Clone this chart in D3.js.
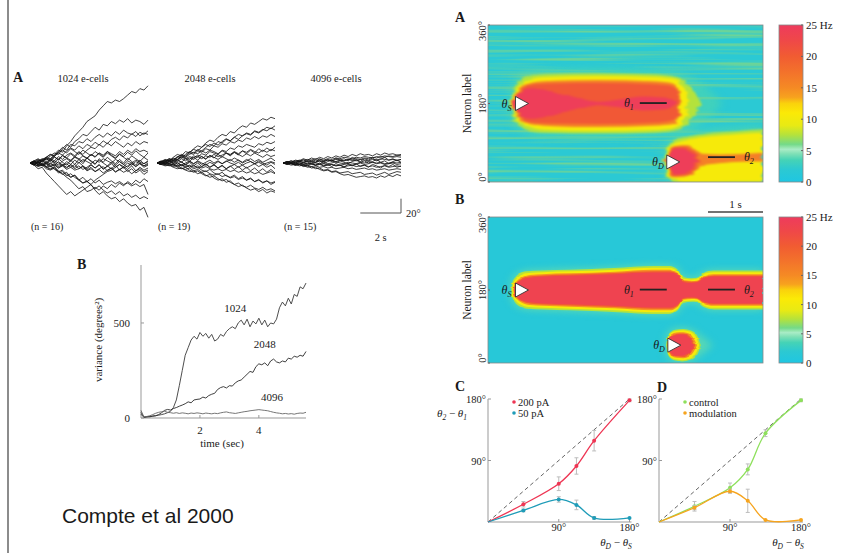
<!DOCTYPE html>
<html>
<head>
<meta charset="utf-8">
<script src="https://cdn.jsdelivr.net/npm/d3@7/dist/d3.min.js"></script>
<style>
html,body{margin:0;padding:0;background:#fff;}
svg{display:block;}
text{font-family:"Liberation Serif","DejaVu Serif",serif;fill:#1a1a1a;}
</style>
</head>
<body>
<svg id="fig" width="859" height="553" viewBox="0 0 859 553"></svg>
<script>
// ================= DATA =================
// Panel A (left): drift traces of bump position (degrees) vs time (s)
const traceTime=[0,0.2,0.4,0.6,0.8,1.0,1.2,1.4,1.6,1.8,2.0,2.2,2.4,2.6,2.8,3.0,3.2,3.4,3.6,3.8,4.0,4.2,4.4,4.6,4.8,5.0,5.2,5.4,5.6,5.8];
const traces1024=[
[0,2,-3,4,8,6,12,18,15,24,30,38,44,50,58,62,66,74,80,86,84,88,86,90,95,100,98,104,102,108],
[0,-2,3,6,4,10,14,12,20,26,22,30,34,40,38,44,50,46,54,52,58,55,60,57,62,56,60,58,54,60],
[0,3,6,2,8,12,10,16,22,18,26,24,30,28,34,30,36,40,36,42,38,44,40,46,42,40,44,38,42,40],
[0,-3,2,5,1,6,3,9,5,11,14,10,16,12,18,22,20,26,22,28,24,30,26,22,28,24,30,26,30,28],
[0,2,-1,3,-2,4,1,-3,3,6,2,8,5,10,7,12,9,14,11,16,13,10,16,12,18,14,20,16,18,15],
[0,-2,1,-3,2,-1,3,0,-4,2,-2,4,0,5,2,-1,4,1,6,3,0,5,2,-2,3,0,4,1,-1,2],
[0,1,-2,-4,-1,-5,-3,-7,-4,-9,-6,-10,-8,-5,-11,-8,-12,-9,-14,-10,-7,-12,-9,-13,-10,-15,-11,-8,-12,-10],
[0,-2,-5,-3,-8,-10,-7,-14,-12,-18,-15,-20,-24,-20,-26,-22,-28,-24,-30,-27,-25,-29,-26,-30,-28,-32,-29,-33,-30,-44],
[0,2,-3,-1,-6,-4,-9,-12,-10,-16,-20,-17,-24,-28,-26,-30,-38,-44,-40,-46,-50,-48,-54,-50,-56,-60,-58,-66,-62,-76],
[0,-3,-8,-6,-14,-20,-26,-32,-38,-44,-40,-46,-42,-38,-34,-30,-24,-20,-16,-12,-10,-6,-2,-5,0,-3,2,-1,-4,0],
[0,3,1,5,8,12,9,15,18,14,20,16,12,18,14,10,16,12,8,14,10,6,12,8,4,10,6,2,8,4],
[0,-1,-4,-2,-6,-9,-5,-12,-16,-13,-20,-17,-23,-28,-25,-31,-36,-32,-38,-42,-39,-44,-40,-46,-43,-48,-45,-50,-47,-50],
[0,1,4,2,7,5,10,14,11,17,21,18,24,20,26,23,29,25,31,27,33,36,32,38,35,41,37,43,40,45],
[0,-1,2,-2,1,-3,-1,-5,-2,-6,-3,-8,-4,-9,-6,-2,-7,-3,-8,-5,-1,-6,-2,-7,-4,0,-5,-1,-6,-3],
[0,2,0,3,6,3,8,5,10,7,4,9,6,2,7,3,-1,4,0,-4,1,-3,2,-2,-6,-1,-5,0,-4,-2],
[0,-2,-4,-1,-5,-8,-6,-11,-15,-20,-24,-30,-36,-33,-40,-38,-34,-38,-32,-36,-30,-34,-28,-32,-26,-30,-24,-28,-22,-26],
[0,3,-2,4,-1,5,0,6,1,-3,4,-2,5,-1,7,2,-2,6,1,8,3,-1,5,0,7,2,-3,4,-1,3],
[0,-3,2,-1,-5,0,-4,2,-3,-7,-2,-6,1,-4,-8,-3,-7,-2,-9,-4,-8,-3,-10,-5,-9,-4,-11,-6,-10,-7],
[0,2,5,1,6,2,9,4,11,7,13,8,15,10,6,12,8,14,9,16,11,7,13,9,15,11,17,12,8,14],
[0,-2,1,-4,0,-5,-2,-7,-3,-1,-6,-2,-8,-4,-10,-6,-12,-8,-5,-11,-7,-13,-9,-6,-12,-8,-14,-10,-16,-12]
];
const traces2048=[
[0,2,5,3,8,12,10,16,14,20,24,22,28,32,30,36,40,38,44,42,48,52,50,56,54,58,62,60,64,62],
[0,-2,2,6,4,9,7,12,16,14,19,17,22,26,24,30,28,33,31,36,40,38,42,40,45,43,47,45,49,46],
[0,3,1,5,3,8,11,9,14,12,17,15,20,18,24,22,27,25,30,28,32,30,35,33,37,34,38,36,40,37],
[0,1,4,2,6,4,9,7,5,10,8,13,11,16,14,12,18,16,21,19,24,22,26,24,22,27,25,29,27,30],
[0,-1,2,0,4,2,6,3,7,5,9,6,10,8,12,9,11,14,12,16,13,17,15,19,16,14,18,15,19,17],
[0,2,-1,3,0,4,1,-2,2,-1,3,0,-3,1,-2,2,-1,3,0,-2,1,-3,0,2,-1,1,-2,0,2,0],
[0,-2,0,-3,-1,-4,-2,-5,-3,-6,-4,-7,-5,-8,-10,-8,-11,-9,-12,-10,-13,-11,-14,-12,-15,-13,-16,-14,-12,-15],
[0,-1,-3,-2,-5,-3,-7,-9,-7,-11,-9,-13,-11,-15,-17,-15,-19,-17,-21,-19,-23,-21,-24,-22,-26,-24,-27,-25,-28,-26],
[0,-2,-4,-3,-6,-8,-7,-10,-12,-11,-15,-13,-17,-20,-18,-22,-25,-23,-27,-30,-28,-32,-34,-31,-35,-37,-34,-38,-36,-39],
[0,1,-2,-4,-2,-6,-8,-6,-10,-13,-11,-15,-18,-16,-21,-24,-22,-27,-25,-30,-33,-31,-35,-38,-36,-40,-37,-42,-39,-41],
[0,2,4,3,7,5,10,8,12,15,13,17,14,18,16,13,17,14,11,15,12,9,13,10,14,11,8,12,9,11],
[0,-2,1,-1,-3,0,-4,-2,-6,-3,-7,-5,-2,-6,-3,-7,-4,-8,-5,-2,-6,-3,-7,-4,-1,-5,-2,-6,-3,-8],
[0,1,3,6,4,8,12,10,15,19,17,22,26,23,28,25,30,34,31,36,33,38,41,39,44,42,46,50,48,52],
[0,-1,-2,0,-3,-5,-3,-6,-4,-8,-6,-10,-12,-9,-14,-16,-13,-18,-20,-17,-22,-19,-24,-21,-26,-23,-28,-25,-30,-27],
[0,2,1,4,2,5,8,6,9,7,11,9,6,10,8,5,9,6,3,7,4,1,5,2,-1,3,0,-3,1,-2],
[0,-2,2,-1,3,-2,2,-3,1,-4,0,-5,-1,-6,-2,-7,-3,-8,-4,-9,-5,-10,-6,-11,-7,-12,-8,-13,-9,-14],
[0,2,-1,3,0,5,1,6,2,8,4,9,5,11,7,12,8,14,10,15,11,17,13,18,14,20,16,21,17,22],
[0,1,-2,2,-1,1,-3,0,3,-1,2,-2,1,4,0,3,-1,2,5,1,4,0,3,6,2,5,1,4,7,3]
];
const traces4096=[
[0,2,1,4,3,6,4,7,5,8,6,9,7,10,8,11,9,12,10,13,11,12,10,13,11,14,12,13,11,12],
[0,1,3,2,4,3,5,4,6,5,4,6,5,7,6,8,7,6,8,7,9,8,7,9,8,10,9,8,9,8],
[0,-1,1,0,2,1,3,2,1,3,2,4,3,2,4,3,5,4,3,5,4,3,5,4,6,5,4,5,4,5],
[0,1,-1,0,-2,0,-1,1,0,-1,1,-1,0,2,0,-1,1,0,-1,1,0,2,1,0,1,-1,0,1,0,1],
[0,-1,0,-2,-1,-3,-2,-1,-3,-2,-4,-3,-2,-4,-3,-5,-4,-3,-5,-4,-3,-5,-4,-6,-5,-4,-6,-5,-4,-5],
[0,-2,-1,-3,-2,-4,-3,-5,-4,-6,-5,-7,-6,-8,-7,-6,-8,-7,-9,-8,-7,-9,-8,-10,-9,-8,-10,-9,-8,-9],
[0,-1,-3,-2,-4,-3,-6,-5,-8,-7,-10,-9,-12,-11,-14,-13,-12,-15,-14,-13,-16,-15,-14,-17,-15,-13,-16,-14,-12,-13],
[0,1,-1,-3,-2,-5,-4,-7,-6,-9,-11,-10,-13,-12,-15,-17,-16,-18,-20,-19,-18,-20,-19,-21,-18,-20,-17,-19,-16,-18],
[0,2,1,3,2,1,3,2,4,3,2,4,3,5,4,3,5,4,6,5,7,6,8,7,9,8,10,9,11,10],
[0,-1,1,-1,0,-2,0,-1,-3,-2,-1,-3,-2,-4,-3,-2,-1,-3,-2,0,-2,-1,1,-1,0,-2,-1,0,-2,-1],
[0,2,-1,1,3,0,2,-2,1,3,-1,2,4,0,3,1,-1,2,4,1,3,0,2,5,1,3,-1,2,4,1],
[0,-2,0,-3,1,-2,-4,-1,-3,0,-4,-2,-5,-1,-3,-6,-2,-4,-1,-5,-3,-6,-2,-4,-7,-3,-5,-2,-6,-4],
[0,1,3,0,2,5,2,4,1,6,3,5,2,7,4,6,3,8,5,2,6,4,7,3,5,8,4,6,3,5]
];
const traceTitles=['1024 e-cells','2048 e-cells','4096 e-cells'];
const traceCounts=['(n = 16)','(n = 19)','(n = 15)'];

// Panel B (left): variance (degrees^2) vs time (s)
const varTime=[0,0.1,0.2,0.3,0.4,0.5,0.6,0.7,0.8,0.9,1.0,1.1,1.2,1.3,1.4,1.5,1.6,1.7,1.8,1.9,2.0,2.1,2.2,2.3,2.4,2.5,2.6,2.7,2.8,2.9,3.0,3.1,3.2,3.3,3.4,3.5,3.6,3.7,3.8,3.9,4.0,4.1,4.2,4.3,4.4,4.5,4.6,4.7,4.8,4.9,5.0,5.1,5.2,5.3,5.4,5.5,5.6];
const var1024=[30,5,8,6,10,12,15,18,22,28,35,55,95,170,250,330,370,410,430,415,450,430,445,420,440,405,415,440,430,455,470,480,470,500,515,490,520,480,510,495,525,490,515,480,500,495,520,580,610,590,630,600,650,640,690,680,710];
const var2048=[20,3,5,8,10,12,18,28,40,45,42,50,55,62,68,75,85,80,95,98,100,110,105,118,125,130,150,160,165,158,170,168,185,195,200,215,230,245,240,270,285,280,290,275,300,310,295,290,300,295,315,310,325,320,330,325,350];
const var4096=[40,5,8,12,18,25,30,33,35,30,28,25,28,24,27,25,22,26,24,27,25,22,26,24,22,25,23,27,30,32,28,26,24,27,30,33,35,38,40,42,44,42,40,38,34,30,27,25,22,24,21,23,20,24,26,25,30];
const varLabels=['1024','2048','4096'];
const varTicksY=[0,500];
const varTicksX=[2,4];

// Colour map of the rasters (Hz -> colour)
const cmapValues=[0,2,3.5,4.5,5.2,6,7.5,9,11,12.5,13.5,15,17.5,20,22.5,25];
const cmapColors=['#1fc6e2','#2cc9d2','#45d3b6','#7fe0b6','#a9ecc6','#74da88','#b4e23c','#e8ea14','#fbea06','#fad20c','#f7a21e','#f58a24','#f3722b','#f15c32','#ef4848','#ee3b5d'];
const cbarTicks=[0,5,10,15,20,25];

// Raster A: bump contours, [time s, half-width deg] for each firing-rate level
const rasterA_bumpS={center:[[0,180],[5,180]],levels:[
 {rate:3.2,pts:[[0.38,0],[0.40,25],[0.45,45],[0.55,62],[0.7,72],[1.0,78],[2.0,80],[3.0,78],[3.4,74],[3.6,66],[3.8,52],[4.0,34],[4.15,16],[4.25,0]]},
 {rate:7.5,pts:[[0.42,0],[0.44,22],[0.48,38],[0.56,52],[0.7,62],[1.0,67],[2.0,69],[3.0,67],[3.4,62],[3.55,52],[3.7,34],[3.82,14],[3.88,0]]},
 {rate:10.5,pts:[[0.44,0],[0.46,20],[0.51,32],[0.6,45],[0.75,55],[1.0,60],[2.0,63],[3.0,61],[3.38,56],[3.5,44],[3.6,26],[3.66,0]]},
 {rate:16,pts:[[0.46,0],[0.48,18],[0.53,28],[0.62,40],[0.8,48],[1.2,52],[2.0,54],[3.0,51],[3.38,46],[3.46,32],[3.52,0]]},
 {rate:20.5,pts:[[0.47,0],[0.5,16],[0.55,25],[0.65,36],[0.85,44],[1.2,46],[2.0,47],[3.0,44],[3.38,39],[3.45,22],[3.49,0]]},
 {rate:24.5,pts:[[0.48,0],[0.5,14],[0.56,24],[0.65,32],[0.8,35],[1.0,32],[1.2,26],[1.5,16],[1.8,8],[2.0,4],[2.4,10],[2.8,16],[3.2,14],[3.4,6],[3.45,0]]}
]};
const rasterA_bumpD={center:[[3.25,46],[3.6,48],[4.0,52],[4.5,55],[5.0,57]],levels:[
 {rate:3.2,pts:[[3.18,0],[3.2,22],[3.25,40],[3.35,55],[3.6,64],[4.0,70],[4.5,72],[5.0,74]]},
 {rate:7.5,pts:[[3.2,0],[3.22,20],[3.27,36],[3.38,48],[3.6,56],[4.0,60],[4.5,62],[5.0,64]]},
 {rate:10.5,pts:[[3.22,0],[3.24,18],[3.29,32],[3.4,42],[3.6,48],[4.0,52],[4.5,54],[5.0,56]]},
 {rate:16,pts:[[3.24,0],[3.26,16],[3.31,28],[3.42,36],[3.6,36],[3.75,28],[3.9,14],[4.2,10],[4.6,9],[5.0,10]]},
 {rate:20.5,pts:[[3.25,0],[3.27,15],[3.32,26],[3.42,33],[3.58,33],[3.72,24],[3.8,12],[3.84,0]]},
 {rate:24.5,pts:[[3.26,0],[3.28,14],[3.33,24],[3.43,30],[3.56,29],[3.68,20],[3.76,8],[3.79,0]]}
]};
// Raster B
const rasterB_bumpS={center:[[0,180],[5,180]],levels:[
 {rate:3.8,pts:[[0.40,0],[0.42,20],[0.47,33],[0.55,43],[0.7,50],[1.0,52],[1.5,54],[2.3,58],[3.0,63],[3.3,63],[3.45,54],[3.55,36],[3.7,33],[3.8,34],[3.92,46],[4.1,51],[5.0,51]]},
 {rate:7.5,pts:[[0.42,0],[0.44,18],[0.49,30],[0.57,40],[0.72,46],[1.0,48],[1.5,50],[2.3,54],[3.0,59],[3.3,59],[3.45,50],[3.55,32],[3.7,29],[3.8,30],[3.92,42],[4.1,48],[5.0,48]]},
 {rate:10.5,pts:[[0.44,0],[0.46,16],[0.51,27],[0.59,36],[0.74,42],[1.0,44],[1.5,46],[2.3,50],[3.0,55],[3.3,55],[3.45,46],[3.55,28],[3.7,26],[3.8,27],[3.92,38],[4.1,44],[5.0,44]]},
 {rate:14.5,pts:[[0.46,0],[0.48,14],[0.53,23],[0.61,31],[0.76,37],[1.0,39],[1.5,41],[2.3,45],[3.0,50],[3.3,50],[3.45,41],[3.55,24],[3.7,22],[3.8,23],[3.92,34],[4.1,39],[5.0,39]]},
 {rate:20,pts:[[0.47,0],[0.49,13],[0.54,21],[0.62,28],[0.78,34],[1.0,36],[1.5,38],[2.3,42],[3.0,46],[3.3,46],[3.45,38],[3.55,22],[3.7,20],[3.8,21],[3.92,31],[4.1,36],[5.0,36]]},
 {rate:23.5,pts:[[0.48,0],[0.5,12],[0.55,19],[0.63,26],[0.8,31],[1.0,33],[1.5,35],[2.3,39],[3.0,43],[3.3,43],[3.45,35],[3.55,20],[3.7,17],[3.8,19],[3.92,28],[4.1,33],[5.0,33]]}
]};
const rasterB_bumpD={center:[[3.2,44],[4.1,44]],levels:[
 {rate:3.8,pts:[[3.22,0],[3.24,20],[3.3,34],[3.4,42],[3.55,44],[3.7,40],[3.82,30],[3.92,18],[4.02,8],[4.05,0]]},
 {rate:7.5,pts:[[3.24,0],[3.26,18],[3.31,31],[3.41,38],[3.55,40],[3.69,36],[3.8,24],[3.87,0]]},
 {rate:10.5,pts:[[3.25,0],[3.27,17],[3.32,29],[3.42,35],[3.55,37],[3.68,33],[3.78,20],[3.84,0]]},
 {rate:14.5,pts:[[3.26,0],[3.28,15],[3.33,26],[3.43,31],[3.55,32],[3.66,28],[3.75,14],[3.8,0]]},
 {rate:20,pts:[[3.27,0],[3.29,14],[3.34,24],[3.44,28],[3.55,29],[3.65,24],[3.73,10],[3.77,0]]},
 {rate:23.5,pts:[[3.28,0],[3.3,12],[3.35,22],[3.45,26],[3.55,26],[3.64,20],[3.71,8],[3.74,0]]}
]};
// cue markers [time, angle] and read-out bars [t0, t1, angle]
const rasterA_cues={S:[0.5,180],D:[3.25,46]};
const rasterA_bars={one:[2.76,3.25,181],two:[4.0,4.49,57]};
const rasterB_cues={S:[0.5,180],D:[3.27,44]};
const rasterB_bars={one:[2.76,3.25,181],two:[4.0,4.49,181]};

// Panels C & D: theta2 - theta1 vs thetaD - thetaS
const cdAngles=[0,45,90,112.5,135,180];
const c200=[0,26,56,82,119,178], c200err=[0,4,10,12,15,2];
const c50=[0,17,33,25,6,6],     c50err=[0,2,4,7,2,1];
const dControl=[0,23,50,77,130,178], dControlErr=[0,7,7,8,5,2];
const dModulation=[0,21,45,31,3,3],  dModulationErr=[0,3,3,17,1,1];

// ================= DRAWING =================
const svg=d3.select('#fig');
const defs=svg.append('defs');
const cmap=d3.scaleLinear().domain(cmapValues).range(cmapColors).clamp(true);

svg.append('rect').attr('x',7).attr('y',0).attr('width',2).attr('height',553).attr('fill','#8c8c8c');

// ---- Left A: traces ----
const gA=svg.append('g');
gA.append('text').attr('x',13).attr('y',82).style('font-weight','bold').style('font-size','14px').text('A');
const trX0=[30,157,283], trW=118;
const trY=d3.scaleLinear().domain([-20,20]).range([163+14.3,163-14.3]);
[traces1024,traces2048,traces4096].forEach((set,i)=>{
  const x=d3.scaleLinear().domain([0,5.8]).range([trX0[i],trX0[i]+trW]);
  const line=d3.line().x((d,j)=>x(traceTime[j])).y(d=>trY(d));
  gA.append('g').selectAll('path').data(set).join('path')
    .attr('d',line).attr('fill','none').attr('stroke','#111').attr('stroke-width',0.8);
  gA.append('text').attr('x',trX0[i]+53).attr('y',82).attr('text-anchor','middle').style('font-size','10.5px').text(traceTitles[i]);
  gA.append('text').attr('x',trX0[i]+1).attr('y',230).style('font-size','10px').text(traceCounts[i]);
});
{
  const x=d3.scaleLinear().domain([0,5.8]).range([trX0[2],trX0[2]+trW]);
  const xe=x(5.8), xs=x(3.8), yb=213, yt=yb-(trY(0)-trY(20));
  gA.append('path').attr('d',`M${xs},${yb}H${xe}V${yt}`).attr('fill','none').attr('stroke','#555').attr('stroke-width',1);
  gA.append('text').attr('x',xe+5).attr('y',217).style('font-size','10.5px').text('20°');
  gA.append('text').attr('x',(xs+xe)/2).attr('y',241).attr('text-anchor','middle').style('font-size','10.5px').text('2 s');
}

// ---- Left B: variance ----
const gB=svg.append('g');
gB.append('text').attr('x',77).attr('y',269).style('font-weight','bold').style('font-size','14px').text('B');
const vx=d3.scaleLinear().domain([0,5.6]).range([141,306]);
const vy=d3.scaleLinear().domain([0,805]).range([418,265]);
gB.append('line').attr('x1',141).attr('x2',141).attr('y1',vy(805)).attr('y2',vy(0)).attr('stroke','#999');
gB.append('line').attr('x1',141).attr('x2',vx(5.6)).attr('y1',vy(0)).attr('y2',vy(0)).attr('stroke','#999');
varTicksY.forEach(v=>{
  gB.append('line').attr('x1',141).attr('x2',144).attr('y1',vy(v)).attr('y2',vy(v)).attr('stroke','#999');
  gB.append('text').attr('x',130).attr('y',vy(v)+4).attr('text-anchor','end').style('font-size','11px').text(v);
});
varTicksX.forEach(v=>{
  gB.append('line').attr('x1',vx(v)).attr('x2',vx(v)).attr('y1',418).attr('y2',415).attr('stroke','#999');
  gB.append('text').attr('x',vx(v)).attr('y',434).attr('text-anchor','middle').style('font-size','11px').text(v);
});
gB.append('text').attr('x',222).attr('y',447).attr('text-anchor','middle').style('font-size','11px').text('time (sec)');
gB.append('text').attr('transform','translate(102,340) rotate(-90)').attr('text-anchor','middle').style('font-size','11px').text('variance (degrees²)');
const vline=d3.line().x((d,i)=>vx(varTime[i])).y(d=>vy(d));
[[var1024,'#3a3a3a'],[var2048,'#2a2a2a'],[var4096,'#666']].forEach(([s,c])=>{
  gB.append('path').attr('d',vline(s)).attr('fill','none').attr('stroke',c).attr('stroke-width',0.9);
});
const varLabelPos=[[3.2,560],[4.2,370],[4.45,90]];
varLabels.forEach((l,i)=>gB.append('text').attr('x',vx(varLabelPos[i][0])).attr('y',vy(varLabelPos[i][1])).attr('text-anchor','middle').style('font-size','11px').text(l));

// ---- Rasters ----
function thetaLabel(g,x,y,sub,anchor){
  const t=g.append('text').attr('x',x).attr('y',y).attr('text-anchor',anchor).style('font-size','12px').style('font-style','italic');
  t.append('tspan').text('θ');
  t.append('tspan').attr('dy',3).style('font-size','8px').text(sub);
}
{
  const f=defs.append('filter').attr('id','streaks').attr('x',0).attr('y',0).attr('width','100%').attr('height','100%').attr('color-interpolation-filters','sRGB');
  f.append('feTurbulence').attr('type','fractalNoise').attr('baseFrequency','0.006 0.3').attr('numOctaves',2).attr('seed',3);
  f.append('feColorMatrix').attr('type','matrix').attr('values','0 0 0 0 0.42  0 0 0 0 0.83  0 0 0 0 0.60  3.0 0 0 0 -1.3');
  const r=defs.append('filter').attr('id','ragged').attr('x','-10%').attr('y','-10%').attr('width','120%').attr('height','120%').attr('color-interpolation-filters','sRGB');
  r.append('feTurbulence').attr('type','fractalNoise').attr('baseFrequency','0.02 0.3').attr('numOctaves',2).attr('seed',7).attr('result','t');
  r.append('feColorMatrix').attr('in','t').attr('type','matrix').attr('values','1 0 0 0 0  0 0 0 0 0.5  0 0 0 0 0  0 0 0 0 1').attr('result','t2');
  r.append('feDisplacementMap').attr('in','SourceGraphic').attr('in2','t2').attr('scale',12).attr('xChannelSelector','R').attr('yChannelSelector','G').attr('result','d');
  r.append('feGaussianBlur').attr('in','d').attr('stdDeviation',0.8);
  const s=defs.append('filter').attr('id','soft').attr('x','-10%').attr('y','-10%').attr('width','120%').attr('height','120%').attr('color-interpolation-filters','sRGB');
  s.append('feTurbulence').attr('type','fractalNoise').attr('baseFrequency','0.03 0.4').attr('numOctaves',1).attr('seed',11).attr('result','t');
  s.append('feColorMatrix').attr('in','t').attr('type','matrix').attr('values','1 0 0 0 0  0 0 0 0 0.5  0 0 0 0 0  0 0 0 0 1').attr('result','t2');
  s.append('feDisplacementMap').attr('in','SourceGraphic').attr('in2','t2').attr('scale',4).attr('xChannelSelector','R').attr('yChannelSelector','G').attr('result','d');
  s.append('feGaussianBlur').attr('in','d').attr('stdDeviation',0.6);
  const h=defs.append('filter').attr('id','haze').attr('x','-20%').attr('y','-20%').attr('width','140%').attr('height','140%').attr('color-interpolation-filters','sRGB');
  h.append('feGaussianBlur').attr('stdDeviation','4 3');
}
function raster(cfg){
  const g=svg.append('g');
  const x=d3.scaleLinear().domain([0,5]).range([cfg.x0,cfg.x1]);
  const y=d3.scaleLinear().domain([0,360]).range([cfg.y1,cfg.y0]);
  const cid='clip'+cfg.id;
  defs.append('clipPath').attr('id',cid).append('rect').attr('x',cfg.x0).attr('y',cfg.y0).attr('width',cfg.x1-cfg.x0).attr('height',cfg.y1-cfg.y0);
  const inner=g.append('g').attr('clip-path',`url(#${cid})`);
  inner.append('rect').attr('x',cfg.x0).attr('y',cfg.y0).attr('width',cfg.x1-cfg.x0).attr('height',cfg.y1-cfg.y0).attr('fill',cmap(cfg.bg));
  const haze=inner.append('g').attr('filter','url(#haze)');
  if(cfg.textured) inner.append('rect').attr('x',cfg.x0).attr('y',cfg.y0).attr('width',cfg.x1-cfg.x0).attr('height',cfg.y1-cfg.y0).attr('filter','url(#streaks)');
  const bg=inner.append('g').attr('filter',`url(#${cfg.filter})`);
  const nLev=cfg.bumps[0].levels.length;
  for(let li=0;li<nLev;li++){
    cfg.bumps.forEach(b=>{
      const lev=b.levels[li];
      const cs=d3.scaleLinear().domain(b.center.map(d=>d[0])).range(b.center.map(d=>d[1])).clamp(true);
      const area=d3.area().x(d=>x(d[0])).y0(d=>y(cs(d[0])-d[1])).y1(d=>y(cs(d[0])+d[1])).curve(d3.curveMonotoneX);
      (li===0?haze:bg).append('path').attr('d',area(lev.pts)).attr('fill',cmap(lev.rate));
    });
  }
  Object.values(cfg.bars).forEach(b=>{
    g.append('line').attr('x1',x(b[0])).attr('x2',x(b[1])).attr('y1',y(b[2])).attr('y2',y(b[2])).attr('stroke','#222').attr('stroke-width',1.8);
  });
  Object.values(cfg.cues).forEach(c=>{
    const cx=x(c[0]), cy=y(c[1]);
    g.append('path').attr('d',`M${cx},${cy-7}L${cx+13},${cy}L${cx},${cy+7}Z`).attr('fill','#fff').attr('stroke','#333').attr('stroke-width',0.9);
  });
  thetaLabel(g,x(cfg.cues.S[0])-4,y(cfg.cues.S[1])+4,'S','end');
  thetaLabel(g,x(cfg.cues.D[0])-3,y(cfg.cues.D[1])+4,'D','end');
  thetaLabel(g,x(cfg.bars.one[0])-6,y(cfg.bars.one[2])+4,'1','end');
  thetaLabel(g,x(cfg.bars.two[1])+9,y(cfg.bars.two[2])+4,'2','start');
  g.append('rect').attr('x',cfg.x0).attr('y',cfg.y0).attr('width',cfg.x1-cfg.x0).attr('height',cfg.y1-cfg.y0).attr('fill','none').attr('stroke','#888').attr('stroke-width',0.8);
  [[360,cfg.y0+6],[180,y(180)],[0,cfg.y1-5]].forEach(([v,py])=>{
    g.append('line').attr('x1',cfg.x0).attr('x2',cfg.x0+2).attr('y1',y(v)).attr('y2',y(v)).attr('stroke','#666');
    g.append('text').attr('transform',`translate(${cfg.x0-2},${py}) rotate(-90)`).attr('text-anchor','middle').style('font-size','10.5px').text(v+'°');
  });
  g.append('text').attr('transform',`translate(471,${(cfg.y0+cfg.y1)/2}) rotate(-90)`).attr('text-anchor','middle').style('font-size','11.5px').text('Neuron label');
  g.append('text').attr('x',cfg.labelX).attr('y',cfg.labelY).style('font-weight','bold').style('font-size','14px').text(cfg.letter);
  const gid='grad'+cfg.id;
  const grad=defs.append('linearGradient').attr('id',gid).attr('x1',0).attr('y1',1).attr('x2',0).attr('y2',0);
  cmapValues.forEach((v,i)=>grad.append('stop').attr('offset',v/25).attr('stop-color',cmapColors[i]));
  g.append('rect').attr('x',779).attr('y',cfg.y0).attr('width',24).attr('height',cfg.y1-cfg.y0).attr('fill',`url(#${gid})`).attr('stroke','#888').attr('stroke-width',0.8);
  const cy=d3.scaleLinear().domain([0,25]).range([cfg.y1,cfg.y0]);
  cbarTicks.forEach(v=>{
    g.append('line').attr('x1',801).attr('x2',803).attr('y1',cy(v)).attr('y2',cy(v)).attr('stroke','#666');
    g.append('text').attr('x',806).attr('y',cy(v)+4).style('font-size','11px').text(v===25?'25 Hz':v);
  });
  return {g,x,y};
}
raster({id:'A',x0:488,x1:763,y0:25,y1:182,bg:1.8,textured:true,filter:'ragged',bumps:[rasterA_bumpS,rasterA_bumpD],cues:rasterA_cues,bars:rasterA_bars,letter:'A',labelX:455,labelY:22});
const rb=raster({id:'B',x0:488,x1:763,y0:217,y1:363,bg:1.2,textured:false,filter:'soft',bumps:[rasterB_bumpS,rasterB_bumpD],cues:rasterB_cues,bars:rasterB_bars,letter:'B',labelX:455,labelY:204});
rb.g.append('line').attr('x1',rb.x(4)).attr('x2',rb.x(5)).attr('y1',212).attr('y2',212).attr('stroke','#444').attr('stroke-width',1.5);
rb.g.append('text').attr('x',rb.x(4.5)).attr('y',208).attr('text-anchor','middle').style('font-size','11px').text('1 s');

// ---- C & D ----
function diffLabel(g,x,y,b,d){
  const t=g.append('text').attr('x',x).attr('y',y).attr('text-anchor','middle').style('font-size','11px');
  t.append('tspan').style('font-style','italic').text('θ');
  t.append('tspan').attr('dy',3).style('font-size','7.5px').style('font-style','italic').text(b);
  t.append('tspan').attr('dy',-3).text(' − ');
  t.append('tspan').style('font-style','italic').text('θ');
  t.append('tspan').attr('dy',3).style('font-size','7.5px').style('font-style','italic').text(d);
}
function cdPanel(cfg){
  const g=svg.append('g');
  const x=d3.scaleLinear().domain([0,180]).range([cfg.x0,cfg.x1]);
  const y=d3.scaleLinear().domain([0,180]).range([522,399]);
  g.append('line').attr('x1',x(0)).attr('y1',y(0)).attr('x2',x(180)).attr('y2',y(180)).attr('stroke','#666').attr('stroke-width',1).attr('stroke-dasharray','4,3');
  g.append('line').attr('x1',x(0)).attr('x2',x(0)).attr('y1',y(0)).attr('y2',y(180)).attr('stroke','#999');
  g.append('line').attr('x1',x(0)).attr('x2',x(180)+2).attr('y1',y(0)).attr('y2',y(0)).attr('stroke','#999');
  [90,180].forEach(v=>{
    g.append('line').attr('x1',x(0)).attr('x2',x(0)+3).attr('y1',y(v)).attr('y2',y(v)).attr('stroke','#999');
    g.append('text').attr('x',x(0)-2).attr('y',y(v)+4).attr('text-anchor','end').style('font-size','10.5px').text(v+'°');
    g.append('line').attr('x1',x(v)).attr('x2',x(v)).attr('y1',y(0)).attr('y2',y(0)-3).attr('stroke','#999');
    g.append('text').attr('x',x(v)).attr('y',531).attr('text-anchor','middle').style('font-size','10.5px').text(v+'°');
  });
  g.append('text').attr('x',cfg.lx).attr('y',cfg.ly).style('font-weight','bold').style('font-size','14px').text(cfg.letter);
  const line=d3.line().x((d,i)=>x(cdAngles[i])).y(d=>y(d)).curve(d3.curveCatmullRom.alpha(0.5));
  cfg.series.forEach(s=>{
    s.vals.forEach((v,i)=>{
      const e=s.errs[i]; if(e<=1) return;
      const xx=x(cdAngles[i]);
      g.append('path').attr('d',`M${xx},${y(v-e)}V${y(v+e)}M${xx-2},${y(v-e)}h4M${xx-2},${y(v+e)}h4`).attr('stroke','#bdbdbd').attr('stroke-width',1).attr('fill','none');
    });
    g.append('path').attr('d',line(s.vals)).attr('fill','none').attr('stroke',s.color).attr('stroke-width',1.3);
    g.selectAll(null).data(s.vals.slice(1)).join('circle').attr('cx',(d,i)=>x(cdAngles[i+1])).attr('cy',d=>y(d)).attr('r',2).attr('fill',s.color);
  });
  cfg.series.forEach((s,i)=>{
    g.append('circle').attr('cx',cfg.legX).attr('cy',cfg.legY+i*11).attr('r',1.8).attr('fill',s.color);
    g.append('text').attr('x',cfg.legX+4).attr('y',cfg.legY+i*11+3.5).style('font-size','10.5px').text(s.name);
  });
  diffLabel(g,cfg.xlabX,546,'D','S');
  return g;
}
const gC=cdPanel({x0:488,x1:629.5,letter:'C',lx:455,ly:391,legX:514,legY:402,xlabX:616,
  series:[{vals:c200,errs:c200err,color:'#ee3553',name:'200 pA'},{vals:c50,errs:c50err,color:'#1f9cb8',name:'50 pA'}]});
diffLabel(gC,452,417,'2','1');
cdPanel({x0:659,x1:801,letter:'D',lx:657,ly:392,legX:685,legY:402,xlabX:788,
  series:[{vals:dControl,errs:dControlErr,color:'#8ee05c',name:'control'},{vals:dModulation,errs:dModulationErr,color:'#f6a41e',name:'modulation'}]});

svg.append('text').attr('x',62).attr('y',523).style('font-family','"Liberation Sans",Arial,sans-serif').style('font-size','21px').text('Compte et al 2000');
</script>
</body>
</html>
